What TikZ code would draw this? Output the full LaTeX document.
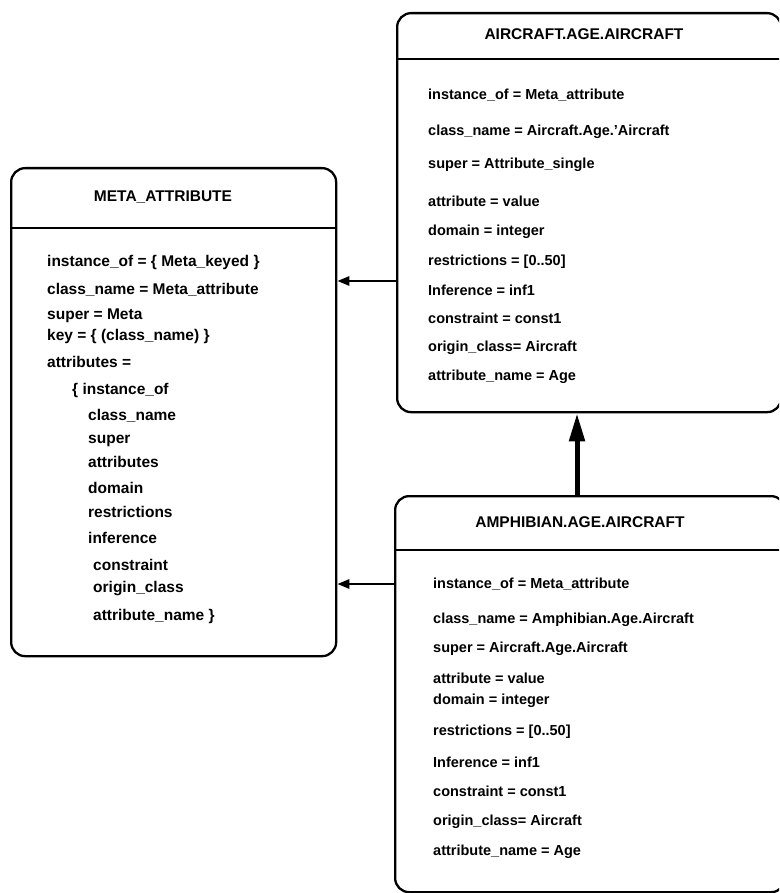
\documentclass[tikz,border=0pt]{standalone}
\usepackage{fontspec}
\setmainfont{Liberation Sans}
\usetikzlibrary{arrows.meta}
\tikzset{
  box/.style={draw, line width=2.3pt, rounded corners=14pt, rectangle, anchor=north west, inner sep=0pt},
  hdr/.style={line width=2.3pt},
  title/.style={font=\bfseries\fontsize{15.5}{18}\selectfont, anchor=center, inner sep=0pt},
  row/.style={font=\bfseries\fontsize{15.5}{18}\selectfont, anchor=west, inner sep=0pt},
  rrow/.style={font=\bfseries\fontsize{14.5}{17}\selectfont, anchor=west, inner sep=0pt},
  link/.style={line width=2.6pt, -{Triangle[length=12pt,width=9pt]}},
  inh/.style={line width=5pt, -{Triangle[length=28pt,width=15pt]}}
}
\begin{document}
\begin{tikzpicture}[x=1pt,y=-1pt]
\useasboundingbox (0,0) rectangle (779,893);
\clip (0,0) rectangle (779,893);
% boxes
\node[box, minimum width=325pt, minimum height=488pt] (meta) at (10,167) {};
\node[box, minimum width=384pt, minimum height=399pt] (air) at (396,12) {};
\node[box, minimum width=390pt, minimum height=396pt] (amph) at (394,495) {};
% header separators
\draw[hdr] (meta.west |- 0,228) -- (meta.east |- 0,228);
\draw[hdr] (air.west |- 0,59) -- (air.east |- 0,59);
\draw[hdr] (amph.west |- 0,550) -- (amph.east |- 0,550);
% titles
\node[title] (metat) at (163,197) {META\_ATTRIBUTE};
\node[title] (airt) at (584,34) {AIRCRAFT.AGE.AIRCRAFT};
\node[title] (ampht) at (580,522) {AMPHIBIAN.AGE.AIRCRAFT};
% META rows
\node[row] (m1) at (47,262) {instance\_of = \{ Meta\_keyed \}};
\node[row] (m2) at (47,290) {class\_name = Meta\_attribute};
\node[row] (m3) at (47,316) {super = Meta};
\node[row] (m4) at (47,336) {key = \{ (class\_name) \}};
\node[row] (m5) at (47,362) {attributes =};
\node[row] (m6) at (72,390) {\{ instance\_of};
\node[row] (m7) at (88,416) {class\_name};
\node[row] (m8) at (88,441) {super};
\node[row] (m9) at (88,462) {attributes};
\node[row] (m10) at (88,488) {domain};
\node[row] (m11) at (88,512) {restrictions};
\node[row] (m12) at (88,538) {inference};
\node[row] (m13) at (93,565) {constraint};
\node[row] (m14) at (93,589) {origin\_class};
\node[row] (m15) at (93,616) {attribute\_name \}};
% AIRCRAFT rows
\node[rrow] (a1) at (428,95) {instance\_of = Meta\_attribute};
\node[rrow] (a2) at (428,132) {class\_name = Aircraft.Age.'Aircraft};
\node[rrow] (a3) at (428,165) {super = Attribute\_single};
\node[rrow] (a4) at (428,201) {attribute = value};
\node[rrow] (a5) at (428,232) {domain = integer};
\node[rrow] (a6) at (428,262) {restrictions = [0..50]};
\node[rrow] (a7) at (428,290) {Inference = inf1};
\node[rrow] (a8) at (428,318) {constraint = const1};
\node[rrow] (a9) at (428,348) {origin\_class= Aircraft};
\node[rrow] (a10) at (428,377) {attribute\_name = Age};
% AMPHIBIAN rows
\node[rrow] (p1) at (433,584) {instance\_of = Meta\_attribute};
\node[rrow] (p2) at (433,620) {class\_name = Amphibian.Age.Aircraft};
\node[rrow] (p3) at (433,649) {super = Aircraft.Age.Aircraft};
\node[rrow] (p4) at (433,678) {attribute = value};
\node[rrow] (p5) at (433,701) {domain = integer};
\node[rrow] (p6) at (433,732) {restrictions = [0..50]};
\node[rrow] (p7) at (433,762) {Inference = inf1};
\node[rrow] (p8) at (433,791) {constraint = const1};
\node[rrow] (p9) at (433,822) {origin\_class= Aircraft};
\node[rrow] (p10) at (433,852) {attribute\_name = Age};
% connectors
\coordinate (c1) at (air.west |- 0,281);
\draw[link] (c1) -- (c1 -| meta.east);
\coordinate (c2) at (amph.west |- p1.west);
\draw[link] (c2) -- (c2 -| meta.east);
\coordinate (c3) at (577,0);
\draw[inh] (c3 |- amph.north) -- (c3 |- air.south);
\end{tikzpicture}
\end{document}
